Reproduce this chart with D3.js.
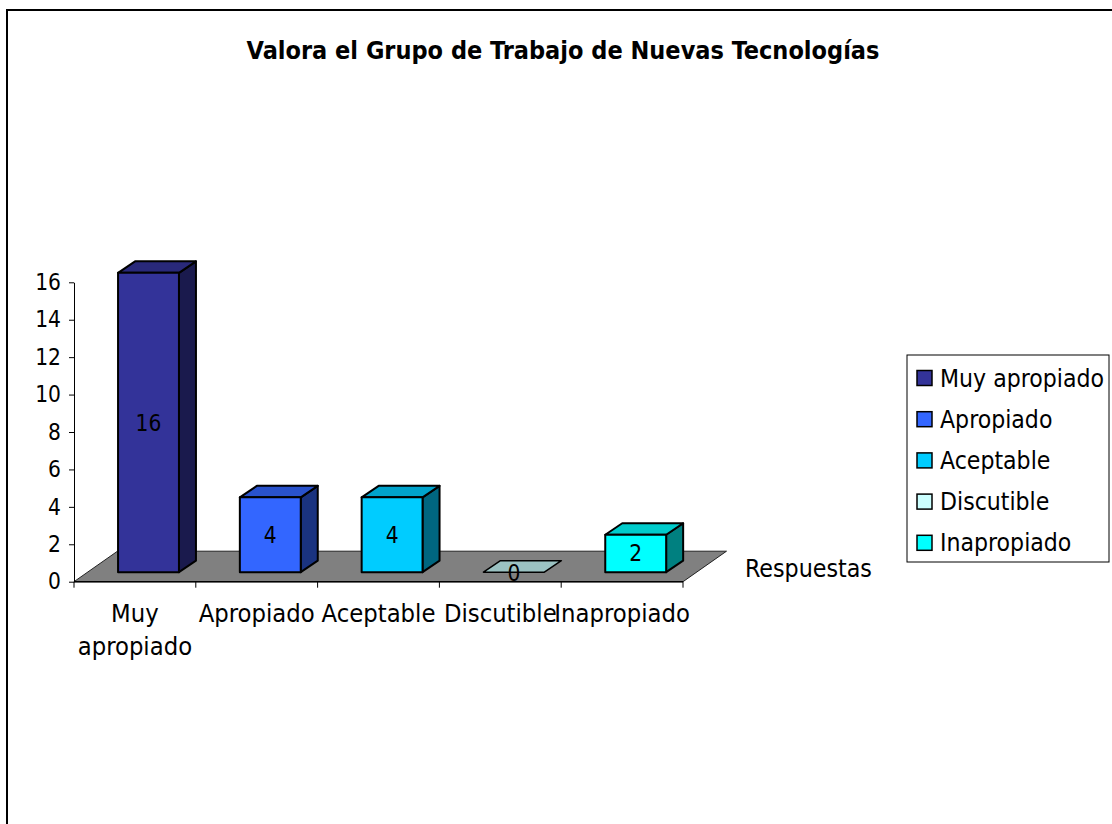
<!DOCTYPE html>
<html><head><meta charset="utf-8">
<script src="https://cdn.jsdelivr.net/npm/d3@7"></script>
<style>body{margin:0;background:#fff}svg{display:block}text{font-family:"DejaVu Sans Condensed","DejaVu Sans",Verdana,sans-serif;fill:#000}</style>
</head><body>
<svg id="c" width="1112" height="824"></svg>
<script>
const title = "Valora el Grupo de Trabajo de Nuevas Tecnologías";
const categories = ["Muy apropiado","Apropiado","Aceptable","Discutible","Inapropiado"];
const categoryLines = [["Muy","apropiado"],["Apropiado"],["Aceptable"],["Discutible"],["Inapropiado"]];
const values = [16,4,4,0,2];
const yTicks = [0,2,4,6,8,10,12,14,16];
const seriesName = "Respuestas";
const colors = ["#333399","#3366FF","#00CCFF","#CCFFFF","#00FFFF"];

const FONT = '"DejaVu Sans Condensed","DejaVu Sans",Verdana,sans-serif';
const svg = d3.select("#c");
function shade(c,k){const r=d3.rgb(c);return d3.rgb(r.r*k,r.g*k,r.b*k).formatHex();}
function fitSize(sel,target){const w=sel.node().getComputedTextLength();const fs=parseFloat(sel.style("font-size"));return fs*target/w;}

// frame
svg.append("rect").attr("x",7).attr("y",10).attr("width",1300).attr("height",1000)
  .attr("fill","none").attr("stroke","#000").attr("stroke-width",2);

// title
const t = svg.append("text").attr("x",563).attr("y",59).attr("text-anchor","middle")
  .style("font-weight","bold").style("font-size","22px").text(title);
t.style("font-size", fitSize(t,633)+"px");

const y = d3.scaleLinear().domain([0,16]).range([581.7,282.3]);
const x = d3.scaleBand().domain(categories).range([74,683]).paddingInner(0).paddingOuter(0);
const bw = x.bandwidth();
const floorD = {dx:43.5, dy:-30.5};
const frontOff = {dx:13.6, dy:-9.5};
const barD = {dx:17, dy:-11.5};

// floor
const y0 = y(0);
svg.append("path").attr("d", d3.line()([[74,y0],[683,y0],[683+floorD.dx,y0+floorD.dy],[74+floorD.dx,y0+floorD.dy]])+"Z")
  .attr("fill","#808080").attr("stroke","#222").attr("stroke-width",1);

// bars
const g = svg.append("g");
categories.forEach((c,i)=>{
  const v = values[i];
  const x0 = x(c)+bw*0.25+frontOff.dx, x1 = x0+bw*0.5;
  const yb = y(0)+frontOff.dy, yt = y(v)+frontOff.dy;
  const col = colors[i];
  const poly = (pts,fill,sw)=>g.append("path").attr("d",d3.line()(pts)+"Z").attr("fill",fill)
    .attr("stroke","#000").attr("stroke-width",sw).attr("stroke-linejoin","round");
  if (v>0){
    poly([[x1,yb],[x1+barD.dx,yb+barD.dy],[x1+barD.dx,yt+barD.dy],[x1,yt]], shade(col,0.5),2);
    poly([[x0,yt],[x1,yt],[x1+barD.dx,yt+barD.dy],[x0+barD.dx,yt+barD.dy]], shade(col,0.8),2);
    poly([[x0,yb],[x1,yb],[x1,yt],[x0,yt]], col,2);
  } else {
    poly([[x0,yt],[x1,yt],[x1+barD.dx,yt+barD.dy],[x0+barD.dx,yt+barD.dy]], shade(col,0.76),1.5);
  }
  g.append("text").attr("x",(x0+x1)/2).attr("y",v>0?(yb+yt)/2:yb+1).attr("text-anchor","middle")
    .attr("dominant-baseline","central").style("font-size","22.5px").text(v);
});

// y axis
const ya = svg.append("g").attr("transform","translate(74,0)")
  .call(d3.axisLeft(y).tickValues(yTicks).tickSize(5).tickSizeOuter(0).tickPadding(8));
ya.select(".domain").attr("stroke","#000");
ya.selectAll(".tick line").attr("stroke","#000");
ya.selectAll(".tick text").style("font-size","22.5px").style("font-family",FONT).attr("fill","#000");

// x axis line and ticks
svg.append("line").attr("x1",74).attr("x2",683).attr("y1",y0).attr("y2",y0).attr("stroke","#000").attr("stroke-width",1.5);
const bounds = categories.map(c=>x(c)).concat([x.range()[1]]);
svg.selectAll(".xt").data(bounds).join("line").attr("x1",d=>d).attr("x2",d=>d)
  .attr("y1",y0).attr("y2",y0+6).attr("stroke","#000");

// x labels
const xl = svg.append("g");
categoryLines.forEach((lines,i)=>{
  const cx = x(categories[i])+bw/2;
  const tx = xl.append("text").attr("x",cx).attr("y",622).attr("text-anchor","middle").style("font-size","24px");
  lines.forEach((l,j)=>tx.append("tspan").attr("x",cx).attr("dy",j?33:0).text(l));
});
const ref = xl.selectAll("text").filter((d,i)=>i===1);
const xs = fitSize(ref,116);
xl.selectAll("text").style("font-size",xs+"px");

// series name
const rs = svg.append("text").attr("x",745).attr("y",568).attr("dominant-baseline","central").style("font-size","23px").text(seriesName);
rs.style("font-size",fitSize(rs,127)+"px");

// legend
svg.append("rect").attr("x",907).attr("y",355).attr("width",202).attr("height",207)
  .attr("fill","#fff").attr("stroke","#000").attr("stroke-width",1);
const lg = svg.append("g");
categories.forEach((c,i)=>{
  const cy = 378+i*41.2;
  lg.append("rect").attr("x",917).attr("y",cy-7.5).attr("width",15).attr("height",15)
    .attr("fill",colors[i]).attr("stroke","#000").attr("stroke-width",1.5);
  lg.append("text").attr("x",940).attr("y",cy).attr("dominant-baseline","central").style("font-size","22px").text(c);
});
const l0 = lg.selectAll("text").filter((d,i)=>i===0);
lg.selectAll("text").style("font-size",fitSize(l0,164)+"px");
</script>
</body></html>
